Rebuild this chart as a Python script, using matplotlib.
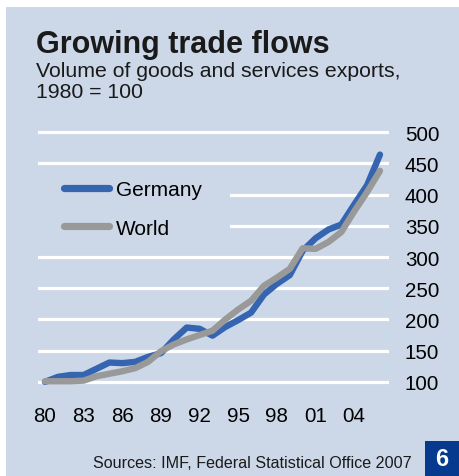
import matplotlib.pyplot as plt
from matplotlib.patches import Rectangle

years = list(range(1980, 2007))
germany = [100, 108, 111, 111, 121, 131, 130, 132, 140, 146, 168, 187, 185, 174, 188, 199, 211, 240, 257, 271,
           310, 330, 344, 352, 384, 415, 464]
world = [101, 101, 101, 102, 109, 113, 117, 122, 132, 149, 160, 168, 175, 182, 200, 216, 230, 254, 267, 281,
         314, 313, 324, 340, 373, 404, 438]
xticks = [1980, 1983, 1986, 1989, 1992, 1995, 1998, 2001, 2004]
xticklabels = ["80", "83", "86", "89", "92", "95", "98", "01", "04"]
yticks = [100, 150, 200, 250, 300, 350, 400, 450, 500]

BG = "#ccd7e8"
BLUE = "#3565b1"
GREY = "#999999"

plt.rcParams['font.family'] = ['Liberation Sans', 'DejaVu Sans']

W, H = 459, 477
fig = plt.figure(figsize=(W / 100, H / 100), dpi=100)
fig.patch.set_facecolor("white")
fig.patches.append(Rectangle((6 / W, 0), 1 - 6 / W, 1 - 8 / H, transform=fig.transFigure,
                             facecolor=BG, edgecolor="none", zorder=-10))

ax = fig.add_axes([38 / W, (H - 386) / H, 351 / W, 256 / H])
ax.set_facecolor(BG)
for s in ax.spines.values():
    s.set_visible(False)

ax.set_xlim(1979.46, 2006.7)
ax.set_ylim(95, 505)
ax.set_yticks(yticks)
ax.set_xticks(xticks)
ax.set_xticklabels(xticklabels)
ax.yaxis.tick_right()
ax.tick_params(axis="y", length=0, pad=11.5, labelsize=14.8)
ax.tick_params(axis="x", length=0, pad=15, labelsize=14.8)
ax.yaxis.grid(True, color="white", linewidth=2.3)
ax.set_axisbelow(True)

# blank area behind the legend
ax.add_patch(Rectangle((0, 0.531), 0.547, 0.305, transform=ax.transAxes,
                       facecolor=BG, edgecolor="none", zorder=1))

ax.plot(years, germany, color=BLUE, linewidth=4.6, solid_capstyle="round", solid_joinstyle="round",
        label="Germany", zorder=3)
ax.plot(years, world, color=GREY, linewidth=4.6, solid_capstyle="round", solid_joinstyle="round",
        label="World", zorder=4)

leg = ax.legend(loc="upper left", bbox_to_anchor=(25.5 / 351, (386 - 181) / 256), frameon=False,
                fontsize=15, handlelength=2.16, handletextpad=0.36, labelspacing=0.94, borderpad=0,
                borderaxespad=0)
for line in leg.get_lines():
    line.set_linewidth(5.2)
    line.set_solid_capstyle("round")

fig.text(36 / W, 1 - 53 / H, "Growing trade flows", fontsize=22, fontweight="heavy", color="#1a1a1a",
         va="baseline")
fig.text(36 / W, 1 - 77 / H, "Volume of goods and services exports,", fontsize=15.3, color="#1a1a1a",
         va="baseline")
fig.text(36 / W, 1 - 98 / H, "1980 = 100", fontsize=15.3, color="#1a1a1a", va="baseline")

fig.text(412 / W, 1 - 468 / H, "Sources: IMF, Federal Statistical Office 2007", fontsize=11.65,
         color="#1a1a1a", ha="right", va="baseline")

fig.patches.append(Rectangle((425 / W, 0), 34 / W, 35 / H, transform=fig.transFigure,
                             facecolor="#063a8e", edgecolor="none", zorder=1))
fig.text(442 / W, 17.5 / H, "6", fontsize=17, fontweight="bold", color="white", ha="center", va="center")

fig.savefig("out.png", dpi=100, facecolor=fig.get_facecolor())
